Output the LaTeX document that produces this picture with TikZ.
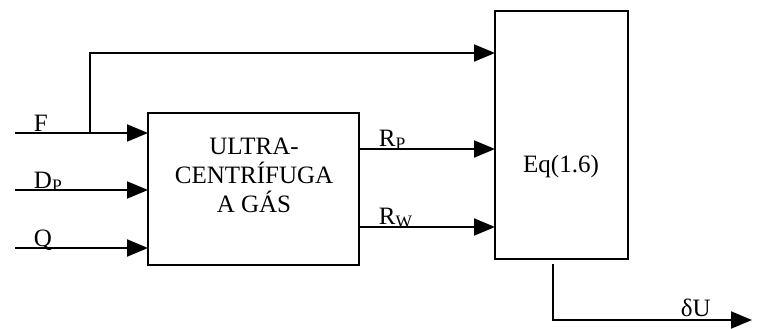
\documentclass[tikz,border=0pt]{standalone}
\usepackage{fontspec}
\setmainfont{Liberation Serif}
\usetikzlibrary{arrows.meta}
\begin{document}
\begin{tikzpicture}[x=1pt,y=-1pt,line width=1.9pt,
  blk/.style={draw,inner sep=0pt,outer sep=0pt},
  arr/.style={-{Triangle[length=21pt,width=17pt]}},
  big/.style={font=\fontsize{25}{29}\selectfont,inner sep=0pt,align=center},
  lbl/.style={font=\fontsize{25}{29}\selectfont,inner sep=0pt}]
\useasboundingbox (0,0) rectangle (758,329);
% blocks
\node[blk,minimum width=211pt,minimum height=152pt] (cf) at (253.5,189) {};
\node[big] (cftext) at (254,175) {ULTRA-\\CENTRÍFUGA\\A GÁS};
\node[blk,minimum width=133pt,minimum height=248pt] (eq) at (561.5,135) {};
\node[big] (eqtext) at (561,166) {Eq(1.6)};
% input coordinates
\coordinate (inF) at (15,133);
\coordinate (inD) at (15,190);
\coordinate (inQ) at (15,248);
\coordinate (br) at (90,133);
\coordinate (top) at (90,53);
\coordinate (rp) at (359,149);
\coordinate (rw) at (359,227);
\coordinate (o1) at (553,264);
\coordinate (o2) at (752,320);
% inputs
\draw[arr] (inF) -- (inF -| cf.west);
\draw[arr] (inD) -- (inD -| cf.west);
\draw[arr] (inQ) -- (inQ -| cf.west);
\draw[arr] (br) -- (top) -- (top -| eq.west);
% outputs of centrifuge
\draw[arr] (rp) -- (rp -| eq.west);
\draw[arr] (rw) -- (rw -| eq.west);
% output
\draw[arr] (o1) |- (o2);
% labels
\node[lbl,anchor=base west] (lF) at (33,131) {F};
\node[lbl,anchor=base west] (lD) at (33,188) {D\textsubscript{P}};
\node[lbl,anchor=base west] (lQ) at (33,246) {Q};
\node[lbl,anchor=base west] (lRp) at (378,146) {R\textsubscript{P}};
\node[lbl,anchor=base west] (lRw) at (378,224) {R\textsubscript{W}};
\node[lbl,anchor=base west] (ldU) at (680,316) {δU};
\end{tikzpicture}
\end{document}
